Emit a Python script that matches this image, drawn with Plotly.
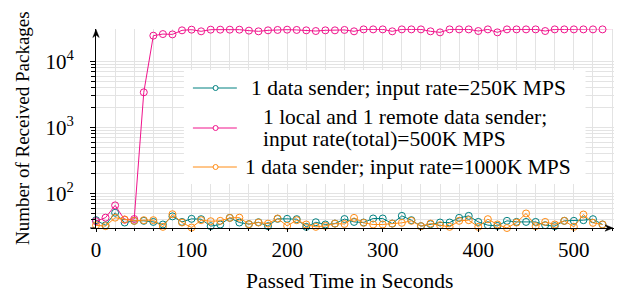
import plotly.graph_objects as go
import math

# ---------------- data ----------------
time_long = list(range(0, 550, 10))    # 0..540
time_short = list(range(0, 540, 10))   # 0..530

names = [
    "1 data sender; input rate=250K MPS",
    "1 local and 1 remote data sender; input rate(total)=500K MPS",
    "1 data sender; input rate=1000K MPS",
]

rate250 = [39.4, 33, 51, 36.3, 38.5, 38.5, 37.1, 33.9, 45, 37.1, 41.3, 40.8, 32, 33.9,
           42.7, 36.3, 34.3, 36.7, 32, 41.3, 41.3, 40.8, 31.2, 36.7, 33.9, 35, 41,
           37.1, 36.3, 41.8, 41.8, 35, 45.8, 39.4, 32, 34.3, 36.3, 36.3, 42.7, 45.8,
           37.1, 33.1, 32.3, 38.5, 37.1, 37.1, 37.1, 33.1, 32, 38.5, 38.5, 39.4, 40.8, 33.9]

rate500 = [38, 43, 66, 40, 41, 3400, 24500, 25900, 25600, 29500, 30200, 28500, 30200, 30200,
           30200, 30200, 29200, 28500, 29500, 29900, 30200, 29900, 29500, 28800, 29500,
           29500, 29900, 28500, 30500, 30500, 30500, 28500, 30500, 30500, 30500, 28500,
           27500, 30500, 30500, 30500, 28800, 30500, 27500, 30500, 30500, 30500, 30500,
           28800, 30500, 30500, 30500, 30500, 30500, 30500, 31300]

rate1000 = [33, 32, 43, 40.4, 38.5, 39.4, 39.4, 31.2, 48.5, 36.3, 30.5, 39.4, 38, 38.5,
            42.7, 43, 34.3, 36.3, 35, 41.8, 32.3, 39.4, 33.9, 31.2, 32.3, 35, 34.5,
            42.7, 35.9, 33.9, 33.9, 35, 35.9, 38.5, 32, 35, 33.1, 31.2, 38.5, 39.4, 31.2,
            40.8, 33.9, 30, 36.3, 49.8, 32, 37.1, 33.9, 38.5, 31.2, 48, 35.9, 33.9]

y_major = [100, 1000, 10000]
y_major_text = ["10<sup>2</sup>", "10<sup>3</sup>", "10<sup>4</sup>"]
y_minor = [m * 10 ** k for k in (1, 2, 3) for m in range(2, 10) if m * 10 ** k >= 30]
x_ticks = [0, 100, 200, 300, 400, 500]

colors = ["rgb(0,128,128)", "rgb(240,20,140)", "rgb(255,140,20)"]
FONT = "Liberation Serif"

# ---------------- geometry helpers ----------------
W, H = 623, 295
L, R, T, B = 96, 8.5, 29, 67
PX0, PX1 = L, W - R
PY0, PY1 = T, H - B


def px(p):
    return (p - PX0) / (PX1 - PX0)


def py(p):
    return (PY1 - p) / (PY1 - PY0)


fig = go.Figure()
series = [(time_short, rate250), (time_long, rate500), (time_short, rate1000)]
for (xs, ys), name, c in zip(series, names, colors):
    fig.add_trace(go.Scatter(
        x=xs, y=ys, name=name, mode="lines+markers",
        line=dict(color=c, width=1),
        marker=dict(symbol="circle-open", size=7, color=c, line=dict(width=1, color=c)),
        cliponaxis=False, showlegend=False))

grid = "#e3e3e3"
fig.update_xaxes(
    range=[0, 542], showline=True, linecolor="black", linewidth=1,
    tickvals=x_ticks, ticks="outside", ticklen=3, tickcolor="black",
    showgrid=True, gridcolor=grid, gridwidth=1, zeroline=False,
    minor=dict(dtick=20, tick0=0, showgrid=True, gridcolor=grid, ticks="outside",
               ticklen=2, tickcolor="black"),
    tickfont=dict(family=FONT, size=21, color="black"), ticklabelstandoff=0,
    automargin=False)
fig.update_yaxes(
    type="log", range=[math.log10(30), 4.49], showline=True, linecolor="black", linewidth=1,
    tickvals=y_major, ticktext=y_major_text, ticks="outside", ticklen=5, tickcolor="black",
    showgrid=True, gridcolor=grid, gridwidth=1, zeroline=False,
    minor=dict(tickvals=y_minor, showgrid=True, gridcolor=grid, ticks="outside",
               ticklen=4, tickcolor="black"),
    tickfont=dict(family=FONT, size=21, color="black"), ticklabelstandoff=12,
    automargin=False)

shapes = []
annotations = []
# x axis extends a bit left of the y axis
shapes.append(dict(type="line", xref="paper", yref="paper", x0=px(90), x1=0, y0=0, y1=0,
                   line=dict(color="black", width=1)))


def arrow_path(tipx, tipy, dx, dy):
    # stealth-like arrowhead pointing in direction (dx, dy), pixel space
    ln, hw, notch = 8.0, 3.2, 2.5
    bx, by = tipx - dx * ln, tipy - dy * ln
    nx, ny = -dy, dx
    p1 = (bx + nx * hw, by + ny * hw)
    p2 = (tipx - dx * (ln - notch), tipy - dy * (ln - notch))
    p3 = (bx - nx * hw, by - ny * hw)
    pts = [(tipx, tipy), p1, p2, p3]
    return "M " + " L ".join(f"{px(a):.5f},{py(b):.5f}" for a, b in pts) + " Z"


shapes.append(dict(type="path", xref="paper", yref="paper", path=arrow_path(PX0, PY0 + 0.5, 0, -1),
                   fillcolor="black", line=dict(color="black", width=0.5)))
shapes.append(dict(type="path", xref="paper", yref="paper", path=arrow_path(PX1 - 1, PY1, 1, 0),
                   fillcolor="black", line=dict(color="black", width=0.5)))

# legend (drawn by hand)
shapes.append(dict(type="rect", xref="paper", yref="paper", x0=px(184), x1=px(586),
                   y0=py(184), y1=py(70), fillcolor="white", line=dict(width=0), layer="above"))
legend_y = [88, 128, 167]
for yy, c in zip(legend_y, colors):
    shapes.append(dict(type="line", xref="paper", yref="paper", x0=px(193), x1=px(237),
                       y0=py(yy), y1=py(yy), line=dict(color=c, width=1), layer="above"))
    shapes.append(dict(type="circle", xref="paper", yref="paper", xsizemode="pixel",
                       ysizemode="pixel", xanchor=px(215.7), yanchor=py(yy),
                       x0=-2.5, x1=2.5, y0=-2.5, y1=2.5, fillcolor="white",
                       line=dict(color=c, width=1), layer="above"))
lf = dict(family=FONT, size=21.5, color="black")
annotations.append(dict(x=px(408.5), y=py(88), xref="paper", yref="paper", showarrow=False,
                        text=names[0], font=lf, xanchor="center", yanchor="middle"))
annotations.append(dict(x=px(261.5), y=py(117), xref="paper", yref="paper", showarrow=False,
                        text="1 local and 1 remote data sender;", font=lf,
                        xanchor="left", yanchor="middle"))
annotations.append(dict(x=px(261.5), y=py(138.5), xref="paper", yref="paper", showarrow=False,
                        text="input rate(total)=500K MPS", font=lf,
                        xanchor="left", yanchor="middle"))
annotations.append(dict(x=px(408), y=py(167), xref="paper", yref="paper", showarrow=False,
                        text=names[2], font=lf, xanchor="center", yanchor="middle"))

# axis titles
annotations.append(dict(x=px(22), y=py(128), xref="paper", yref="paper", showarrow=False,
                        text="Number of Received Packages", textangle=-90,
                        font=dict(family=FONT, size=19, color="black"),
                        xanchor="center", yanchor="middle"))
annotations.append(dict(x=px(350), y=py(281), xref="paper", yref="paper", showarrow=False,
                        text="Passed Time in Seconds",
                        font=dict(family=FONT, size=21.5, color="black"),
                        xanchor="center", yanchor="middle"))

fig.update_layout(
    width=W, height=H, margin=dict(l=L, r=R, t=T, b=B, pad=0),
    plot_bgcolor="white", paper_bgcolor="white",
    shapes=shapes, annotations=annotations, showlegend=False,
    font=dict(family=FONT, color="black"))

fig.write_html("out.html", config={"displayModeBar": False},
               post_script="document.body.style.margin='0px';")
